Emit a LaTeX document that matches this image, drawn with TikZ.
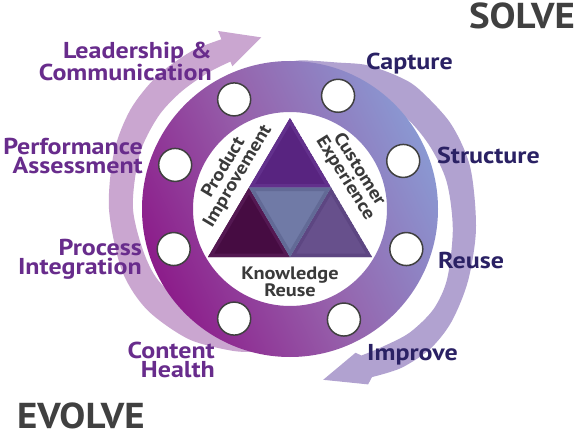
\documentclass[tikz,border=0pt]{standalone}
\usepackage{fontspec}
\setmainfont{PT Sans}[FakeStretch=1.13]
\newfontfamily\headfont{PT Sans}[FakeStretch=1.08]
\usepackage{tikz}
\usetikzlibrary{calc,positioning}

\definecolor{leftpurple}{RGB}{104,44,140}
\definecolor{rightnavy}{RGB}{42,33,100}
\definecolor{headgray}{RGB}{64,64,64}
\definecolor{textgray}{RGB}{58,58,58}
\definecolor{arrowlilac}{RGB}{202,166,208}
\definecolor{arrowlavender}{RGB}{177,162,208}
\definecolor{ringblue}{RGB}{138,152,210}
\definecolor{ringmid}{RGB}{150,98,172}
\definecolor{ringmagenta}{RGB}{140,28,138}
\definecolor{tritop}{RGB}{88,36,128}
\definecolor{tritopedge}{RGB}{98,48,140}
\definecolor{trileft}{RGB}{70,12,66}
\definecolor{trileftedge}{RGB}{84,24,82}
\definecolor{triright}{RGB}{103,80,140}
\definecolor{trirightedge}{RGB}{93,70,130}
\definecolor{trimid}{RGB}{112,122,166}
\definecolor{trimidedge}{RGB}{98,106,150}

\tikzset{
  slot/.style={circle, draw=black!75, line width=1.5pt, fill=white, minimum size=33pt, inner sep=0pt},
  evolvelabel/.style={text=leftpurple, font=\bfseries\fontsize{23}{18.5}\selectfont, align=right, inner sep=0pt, anchor=north east},
  solvelabel/.style={text=rightnavy, font=\bfseries\fontsize{23}{20}\selectfont, inner sep=0pt, anchor=base west},
  heading/.style={text=headgray, font=\headfont\bfseries\fontsize{36}{36}\selectfont, inner sep=0pt},
  hubtext/.style={text=textgray, font=\bfseries\fontsize{18}{15}\selectfont, align=center, inner sep=0pt},
  sidetext/.style={hubtext, font=\bfseries\fontsize{18}{16.5}\selectfont},
}

\begin{document}
\begin{tikzpicture}[x=1pt,y=1pt]
  \path[use as bounding box, fill=white] (0,0) rectangle (576,432);
  \coordinate (c) at (290,223);

  % outer arrows
  \fill[arrowlilac, shift={(c)}] (99.5:174) -- (112:192) -- (112:183)
    -- plot[smooth] coordinates {(112:183) (122:186) (135:188) (148:188) (162:185) (180:181) (200:179) (215:175) (232:165) (248:153) (258:146)}
    -- plot[smooth] coordinates {(250:140) (215:146) (200:152) (180:157) (160:160) (145:161) (133:160) (121:159) (112:159)}
    -- (112:154) -- cycle;
  \fill[arrowlavender, shift={(c)}]
    plot[smooth] coordinates {(94:145) (86:149) (72:154) (62:163) (51:171) (43:176) (28:182) (13:185) (-6:187) (-22:192) (-35:197) (-45:198) (-55:194) (-64:187)}
    -- (-66:192) -- (-79:174) -- (-65.5:158) -- (-64:163)
    -- plot[smooth] coordinates {(-64:163) (-56:166) (-46:172) (-35:175) (-24:172) (-7:164) (10:159) (25:153) (40:147) (60:140) (80:138) (94:140)}
    -- cycle;

  % ring
  \shade[even odd rule, top color=ringblue, bottom color=ringmagenta, middle color=ringmid, shading angle=-65]
    (c) circle[radius=148] (c) circle[radius=97];
  \foreach \a [count=\i] in {117,159,199,243,67,23,-19,-64}
    \node[slot] (slot\i) at ([shift={(\a:123)}]c) {};

  % triangle
  \coordinate (apex) at (290,314);
  \coordinate (bl) at (208,175);
  \coordinate (br) at (372,175);
  \coordinate (ml) at ($(apex)!0.5!(bl)$);
  \coordinate (mr) at ($(apex)!0.5!(br)$);
  \coordinate (mb) at ($(bl)!0.5!(br)$);
  \foreach \p/\q/\r/\fc/\ec in {apex/ml/mr/tritop/tritopedge, ml/bl/mb/trileft/trileftedge,
      mr/mb/br/triright/trirightedge, ml/mr/mb/trimid/trimidedge} {
    \begin{scope}
      \clip (\p) -- (\q) -- (\r) -- cycle;
      \fill[\fc] (\p) -- (\q) -- (\r) -- cycle;
      \draw[\ec, line width=7pt, line join=miter] (\p) -- (\q) -- (\r) -- cycle;
    \end{scope}
  }

  \node[sidetext, rotate=59] (product) at (231,260) {Product\\Improvement};
  \node[sidetext, rotate=-58] (customer) at (352,258) {Customer\\Experience};
  \node[hubtext] (knowledge) at (290,150) {Knowledge\\Reuse};

  % labels
  \node[evolvelabel] (leader) at (212,390) {Leadership \&\\Communication};
  \node[evolvelabel] (perf) at (143,294) {Performance\\Assessment};
  \node[evolvelabel] (process) at (142,193) {Process\\Integration};
  \node[evolvelabel] (content) at (215,90) {Content\\Health};
  \node[solvelabel] (capture) at (366,362) {Capture};
  \node[solvelabel] (structure) at (437,269) {Structure};
  \node[solvelabel] (reuse) at (438,164) {Reuse};
  \node[solvelabel] (improve) at (367,72) {Improve};

  \node[heading, anchor=base east] (solve) at (575,403) {SOLVE};
  \node[heading, anchor=base west] (evolve) at (17,4) {EVOLVE};
\end{tikzpicture}
\end{document}
